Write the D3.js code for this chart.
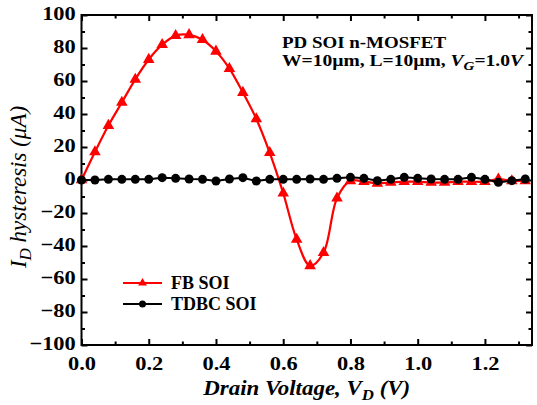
<!DOCTYPE html>
<html>
<head>
<meta charset="utf-8">
<script src="https://cdn.jsdelivr.net/npm/d3@7"></script>
<style>
  html, body { margin: 0; padding: 0; background: #fff; }
  svg text { font-family: "Liberation Serif", "Times New Roman", serif; }
</style>
</head>
<body>
<svg id="chart" width="537" height="405"></svg>
<script>
// Drain voltage sweep (V), sampled every 40 mV
const vd = [0.00, 0.04, 0.08, 0.12, 0.16, 0.20, 0.24, 0.28, 0.32, 0.36, 0.40, 0.44,
            0.48, 0.52, 0.56, 0.60, 0.64, 0.68, 0.72, 0.76, 0.80, 0.84, 0.88, 0.92,
            0.96, 1.00, 1.04, 1.08, 1.12, 1.16, 1.20, 1.24, 1.28, 1.32];

// I_D hysteresis (uA) for the floating-body device
const fbSoi = [0, 17, 33, 47, 61, 73, 82, 87.5, 88, 85, 78, 67.5,
               53, 37, 16.5, -8, -36, -52, -44, -11, -0.5, -1, -2, -1.5,
               -1, -1, -1.5, -1.5, -1, -1, -1, 0.5, -0.5, -0.5];

// I_D hysteresis (uA) for the body-contacted (TDBC) device
const tdbcSoi = [0, 0, 0.4, 0.4, 0.4, 0.4, 1.4, 1, 0.6, 0.4, -0.6, 0.6,
                 1.4, -0.6, 0.4, 0.4, 0.4, 0.6, 0.4, 1, 1.6, 1, -0.4, 0.4,
                 1.6, 1, 0.6, 0.4, 0.4, 1.6, 0.4, -1.4, -0.4, 0.6];

const xTicks = [0, 0.2, 0.4, 0.6, 0.8, 1.0, 1.2];
const xMinor = [0.1, 0.3, 0.5, 0.7, 0.9, 1.1, 1.3];
const yTicks = [100, 80, 60, 40, 20, 0, -20, -40, -60, -80, -100];
const yMinor = [90, 70, 50, 30, 10, -10, -30, -50, -70, -90];

const svg = d3.select("#chart");
const plotL = 81.5, plotR = 532, plotT = 15, plotB = 345;

const x = d3.scaleLinear().domain([0, 1.34]).range([plotL, plotR]);
const y = d3.scaleLinear().domain([-100, 100]).range([plotB, plotT]);

function styleAxis(g) {
  g.select(".domain").remove();
  g.selectAll(".tick line").attr("stroke", "#000").attr("stroke-width", 2);
}

// Inward ticks on all four sides, labels on bottom and left only
svg.append("g").attr("transform", `translate(0,${plotB})`)
  .call(d3.axisBottom(x).tickValues(xTicks).tickSize(-6).tickFormat(d3.format(".1f")))
  .call(styleAxis)
  .call(g => g.selectAll("text")
    .attr("font-size", 19.5).attr("font-weight", "bold").attr("fill", "#000")
    .attr("dy", null).attr("y", 25).attr("transform", "scale(1.15,1)"));
svg.append("g").attr("transform", `translate(0,${plotB})`)
  .call(d3.axisBottom(x).tickValues(xMinor).tickSize(-3.5).tickFormat(""))
  .call(styleAxis);
svg.append("g").attr("transform", `translate(0,${plotT})`)
  .call(d3.axisTop(x).tickValues(xTicks).tickSize(-6).tickFormat(""))
  .call(styleAxis);
svg.append("g").attr("transform", `translate(0,${plotT})`)
  .call(d3.axisTop(x).tickValues(xMinor).tickSize(-3.5).tickFormat(""))
  .call(styleAxis);
svg.append("g").attr("transform", `translate(${plotL},0)`)
  .call(d3.axisLeft(y).tickValues(yTicks).tickSize(-6).tickFormat(d3.format("d")))
  .call(styleAxis)
  .call(g => g.selectAll("text")
    .attr("font-size", 19.5).attr("font-weight", "bold").attr("fill", "#000")
    .attr("dy", null).attr("y", 4).attr("x", -5).attr("transform", "scale(1.15,1)"));
svg.append("g").attr("transform", `translate(${plotL},0)`)
  .call(d3.axisLeft(y).tickValues(yMinor).tickSize(-3.5).tickFormat(""))
  .call(styleAxis);
svg.append("g").attr("transform", `translate(${plotR},0)`)
  .call(d3.axisRight(y).tickValues(yTicks).tickSize(-6).tickFormat(""))
  .call(styleAxis);
svg.append("g").attr("transform", `translate(${plotR},0)`)
  .call(d3.axisRight(y).tickValues(yMinor).tickSize(-3.5).tickFormat(""))
  .call(styleAxis);

// Frame
svg.append("rect")
  .attr("x", plotL).attr("y", plotT)
  .attr("width", plotR - plotL).attr("height", plotB - plotT)
  .attr("fill", "none").attr("stroke", "#000").attr("stroke-width", 2);

const fbData = vd.map((v, i) => [v, fbSoi[i]]);
const tdData = vd.map((v, i) => [v, tdbcSoi[i]]);

// FB SOI: smooth red curve with triangle markers
svg.append("path")
  .datum(fbData)
  .attr("fill", "none").attr("stroke", "#ff0000").attr("stroke-width", 2.2)
  .attr("d", d3.line().x(d => x(d[0])).y(d => y(d[1])).curve(d3.curveCatmullRom.alpha(0.5)));

const tri = d3.symbol().type(d3.symbolTriangle).size(58);
svg.append("g").selectAll("path").data(fbData).join("path")
  .attr("transform", d => `translate(${x(d[0])},${y(d[1])})`)
  .attr("d", tri).attr("fill", "#ff0000");

// TDBC SOI: black line with circle markers
svg.append("path")
  .datum(tdData)
  .attr("fill", "none").attr("stroke", "#000").attr("stroke-width", 2)
  .attr("d", d3.line().x(d => x(d[0])).y(d => y(d[1])));

svg.append("g").selectAll("circle").data(tdData).join("circle")
  .attr("cx", d => x(d[0])).attr("cy", d => y(d[1]))
  .attr("r", 4.5).attr("fill", "#000");

// Legend
const legend = [
  { label: "FB SOI", color: "#ff0000", mark: "tri", yy: 283 },
  { label: "TDBC SOI", color: "#000", mark: "dot", yy: 304 }
];
legend.forEach(l => {
  svg.append("line").attr("x1", 123).attr("x2", 162).attr("y1", l.yy).attr("y2", l.yy)
    .attr("stroke", l.color).attr("stroke-width", 2);
  if (l.mark === "tri") {
    svg.append("path").attr("transform", `translate(142.5,${l.yy})`)
      .attr("d", d3.symbol().type(d3.symbolTriangle).size(34)).attr("fill", l.color);
  } else {
    svg.append("circle").attr("cx", 142.5).attr("cy", l.yy).attr("r", 3.5).attr("fill", l.color);
  }
  svg.append("text").attr("x", 171).attr("y", l.yy + 6)
    .attr("font-size", 18).attr("font-weight", "bold").text(l.label);
});

// Device annotation
svg.append("text").attr("x", 282).attr("y", 48)
  .attr("font-size", 17).attr("font-weight", "bold")
  .attr("textLength", 164).attr("lengthAdjust", "spacingAndGlyphs")
  .text("PD SOI n-MOSFET");
const ann = svg.append("text").attr("x", 282).attr("y", 65.5)
  .attr("font-size", 17).attr("font-weight", "bold")
  .attr("textLength", 241).attr("lengthAdjust", "spacingAndGlyphs");
ann.append("tspan").text("W=10\u00b5m, L=10\u00b5m, ");
ann.append("tspan").attr("font-style", "italic").text("V");
ann.append("tspan").attr("font-style", "italic").attr("font-size", 13).attr("dy", 4).text("G");
ann.append("tspan").attr("dy", -4).text("=1.0");
ann.append("tspan").attr("font-style", "italic").text("V");

// Axis titles
const xt = svg.append("text").attr("x", (plotL + plotR) / 2).attr("y", 395)
  .attr("text-anchor", "middle").attr("font-size", 20.5)
  .attr("font-weight", "bold").attr("font-style", "italic")
  .attr("textLength", 207).attr("lengthAdjust", "spacingAndGlyphs");
xt.append("tspan").text("Drain Voltage, V");
xt.append("tspan").attr("font-size", 15).attr("dy", 5).text("D");
xt.append("tspan").attr("dy", -5).text(" (V)");

const yt = svg.append("text")
  .attr("transform", `translate(26,187) rotate(-90)`)
  .attr("text-anchor", "middle").attr("font-size", 23).attr("font-style", "italic");
yt.append("tspan").text("I");
yt.append("tspan").attr("font-size", 17).attr("dy", 5).text("D");
yt.append("tspan").attr("dy", -5).text(" hysteresis (\u03bcA)");
</script>
</body>
</html>
